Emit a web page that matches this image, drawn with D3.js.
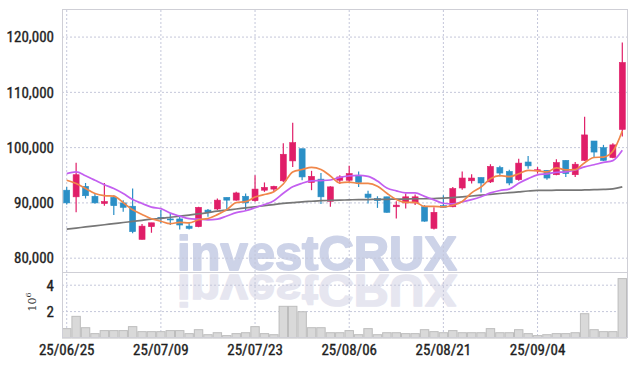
<!DOCTYPE html>
<html>
<head>
<meta charset="utf-8">
<script src="https://cdn.jsdelivr.net/npm/d3@7"></script>
<style>
  body { margin: 0; background: #fff; }
  svg { display: block; }
</style>
</head>
<body>
<svg id="chart" width="635" height="366"></svg>
<script>
// trading days (yy/mm/dd)
const dates = [
  "25/06/25","25/06/26","25/06/27","25/06/30","25/07/01","25/07/02","25/07/03","25/07/04","25/07/07","25/07/08",
  "25/07/09","25/07/10","25/07/11","25/07/14","25/07/15","25/07/16","25/07/17","25/07/18","25/07/21","25/07/22",
  "25/07/23","25/07/24","25/07/25","25/07/28","25/07/29","25/07/30","25/07/31","25/08/01","25/08/04","25/08/05",
  "25/08/06","25/08/07","25/08/08","25/08/11","25/08/12","25/08/13","25/08/14","25/08/18","25/08/19","25/08/20",
  "25/08/21","25/08/22","25/08/25","25/08/26","25/08/27","25/08/28","25/08/29","25/09/01","25/09/02","25/09/03",
  "25/09/04","25/09/05","25/09/08","25/09/09","25/09/10","25/09/11","25/09/12","25/09/15","25/09/16","25/09/17"
];

const open = [
  92300, 91100, 93000, 91200, 89900, 91000, 90000, 89400, 83400, 85700,
  87400, 87100, 87100, 85800, 85700, 88700, 88900, 91000, 90500, 91200,
  90400, 92300, 92500, 94000, 97600, 99800, 93700, 94300, 90300, 94100,
  94100, 95000, 91600, 90800, 91100, 89300, 90000, 90000, 89300, 85400,
  89500, 89300, 92700, 94000, 94600, 93800, 96400, 95700, 94200, 97400,
  95800, 95900, 95100, 97700, 95100, 97700, 101200, 100000, 98200, 103300
];
const high = [
  92900, 97250, 93600, 91800, 93600, 91400, 90500, 92600, 86200, 86400,
  88700, 88000, 87500, 86400, 89300, 88900, 90800, 91000, 92000, 91700,
  95000, 93700, 93100, 100800, 104500, 99800, 95800, 95400, 93000, 95000,
  96700, 95700, 92200, 91200, 91100, 90300, 91700, 91500, 89600, 89200,
  91400, 92900, 95700, 95200, 94600, 97000, 96700, 96000, 98000, 98500,
  96500, 95900, 97900, 97700, 97400, 105600, 101200, 100500, 100800, 119000
];
const low = [
  89700, 88300, 90800, 89900, 89500, 87800, 88400, 84500, 83400, 84600,
  86300, 86000, 85200, 85200, 85600, 87500, 88700, 88900, 90400, 88700,
  90200, 92000, 92000, 93800, 96500, 94100, 92300, 89800, 89300, 93400,
  93800, 92900, 89900, 89100, 88200, 87200, 89000, 89600, 86600, 85200,
  89100, 89200, 92400, 93500, 91900, 93600, 94800, 93200, 94000, 96200,
  95300, 94200, 95000, 94700, 94700, 97600, 98300, 97600, 98100, 102000
];
const close = [
  90000, 95100, 91300, 90000, 90250, 89500, 89200, 84800, 85800, 86400,
  87200, 87000, 86000, 85400, 89200, 88300, 90500, 90500, 91800, 90000,
  92500, 92800, 93000, 98800, 100900, 94700, 94800, 91100, 92900, 94700,
  95300, 93700, 91000, 90400, 88300, 89600, 91100, 91100, 86700, 88300,
  89200, 92600, 94500, 94500, 93600, 96600, 95400, 93600, 97200, 96700,
  96000, 94500, 97300, 95300, 97000, 102300, 99200, 97700, 100500, 115400
];
const volume = [
  710000, 1640000, 780000, 330000, 560000, 560000, 560000, 860000, 480000, 480000,
  480000, 560000, 560000, 330000, 630000, 250000, 400000, 180000, 330000, 400000,
  860000, 330000, 250000, 2400000, 2400000, 1990000, 780000, 780000, 400000, 400000,
  560000, 250000, 710000, 250000, 400000, 400000, 330000, 330000, 630000, 480000,
  400000, 560000, 400000, 400000, 400000, 710000, 400000, 400000, 630000, 330000,
  180000, 250000, 330000, 330000, 400000, 1840000, 630000, 480000, 480000, 4500000
];

// moving averages as drawn
const ma5 = [
  94100, 93500, 92600, 91700, 91330, 91230, 90050, 88750, 87910, 87140,
  86680, 86240, 86480, 86400, 86960, 87180, 87880, 88780, 90060, 90220,
  91060, 91520, 92020, 93420, 95600, 96040, 96440, 96060, 94880, 93640,
  93760, 93540, 93520, 93020, 91740, 90600, 90080, 90100, 89360, 89360,
  89280, 89580, 90260, 91820, 92880, 94360, 94920, 94740, 95280, 95900,
  95780, 95600, 96340, 95960, 96020, 97280, 98220, 98300, 99340, 103020
];
const ma10 = [
  95300, 95600, 94900, 94100, 93300, 92600, 91700, 90600, 89900, 89240,
  88960, 88150, 87620, 87160, 87050, 86930, 87060, 87630, 88230, 88590,
  89120, 89700, 90400, 91740, 92910, 93550, 93980, 94040, 94150, 94620,
  94900, 94990, 94790, 93950, 92690, 92180, 91810, 91810, 91190, 90550,
  89940, 89830, 90180, 90590, 91120, 91820, 92250, 92500, 93550, 94390,
  95070, 95260, 95540, 95620, 95960, 96530, 96910, 97320, 97650, 99520
];
const maLong = [
  85250, 85450, 85650, 85850, 86050, 86250, 86450, 86650, 86850, 87050,
  87200, 87400, 87600, 87800, 88000, 88250, 88500, 88700, 88900, 89100,
  89300, 89500, 89700, 89900, 90050, 90200, 90300, 90400, 90450, 90500,
  90550, 90600, 90600, 90650, 90650, 90700, 90700, 90750, 90750, 90800,
  90850, 90950, 91100, 91250, 91400, 91550, 91700, 91850, 92000, 92150,
  92250, 92250, 92300, 92300, 92300, 92350, 92400, 92450, 92550, 92900
];

const priceTicks = [80000, 90000, 100000, 110000, 120000];
const volumeTicks = [2000000, 4000000];
const dateTicks = ["25/06/25", "25/07/09", "25/07/23", "25/08/06", "25/08/21", "25/09/04"];

const labelFont = "'Liberation Sans Narrow', 'Roboto Condensed', 'DejaVu Sans Condensed', sans-serif";

function styleLabels(axis) {
  axis.select(".domain").remove();
  axis.selectAll("text")
    .attr("font-family", labelFont).attr("font-size", 15)
    .attr("fill", "#1e1e1e").attr("stroke", "#1e1e1e").attr("stroke-width", 0.35);
}

function drawChart() {
  const svg = d3.select("#chart");
  const left = 62, right = 627, top = 10, split = 272, bottom = 338;

  const x = d3.scaleBand().domain(dates).range([left, right]).padding(0);
  const y = d3.scaleLinear().domain([77500, 124900]).range([split, top]);
  const yVol = d3.scaleLinear().domain([0, 5000000]).range([bottom, split]);
  const cx = d => x(d) + x.bandwidth() / 2;

  // watermark and its reflection
  const mark = (fill, transform) => svg.append("text")
    .attr("x", 177).attr("y", 270)
    .attr("transform", transform)
    .attr("font-family", "'Liberation Sans', Arial, sans-serif")
    .attr("font-weight", "bold").attr("font-size", 49)
    .attr("textLength", 280).attr("lengthAdjust", "spacingAndGlyphs")
    .attr("fill", fill).attr("stroke", fill).attr("stroke-width", 1.8)
    .attr("stroke-linejoin", "round")
    .text("investCRUX");
  mark("#cdd3e8", null);
  mark("#e6e6f0", "translate(0,272.5) scale(1,-0.92) translate(0,-272.5)");

  // dotted grid
  const grid = svg.append("g").attr("stroke", "#c4c7da").attr("stroke-dasharray", "2,2");
  priceTicks.forEach(t => {
    grid.append("line").attr("x1", left).attr("x2", right).attr("y1", y(t)).attr("y2", y(t));
  });
  volumeTicks.forEach(t => {
    grid.append("line").attr("x1", left).attr("x2", right).attr("y1", yVol(t)).attr("y2", yVol(t));
  });
  dateTicks.forEach(d => {
    grid.append("line").attr("x1", cx(d)).attr("x2", cx(d)).attr("y1", top).attr("y2", bottom);
  });

  // volume bars
  svg.append("g").selectAll("rect")
    .data(dates)
    .join("rect")
    .attr("x", d => x(d) + 0.5)
    .attr("y", (d, i) => yVol(volume[i]))
    .attr("width", x.bandwidth() - 1)
    .attr("height", (d, i) => bottom - yVol(volume[i]))
    .attr("fill", "#d9d9d9")
    .attr("stroke", "#bdbdbd")
    .attr("stroke-width", 1);

  // frame
  const frame = svg.append("g").attr("stroke", "#cfcfd6").attr("fill", "none");
  frame.append("rect").attr("x", left + 0.5).attr("y", top - 0.5).attr("width", right - left).attr("height", bottom - top);
  frame.append("line").attr("x1", left).attr("x2", right).attr("y1", split + 0.5).attr("y2", split + 0.5);

  // candles
  const up = "#e01e68", down = "#2b8fc6";
  const candles = svg.append("g").selectAll("g")
    .data(dates)
    .join("g")
    .attr("stroke", (d, i) => close[i] >= open[i] ? up : down)
    .attr("fill", (d, i) => close[i] >= open[i] ? up : down);

  candles.append("line")
    .attr("x1", d => cx(d)).attr("x2", d => cx(d))
    .attr("y1", (d, i) => y(high[i]))
    .attr("y2", (d, i) => y(low[i]))
    .attr("stroke-width", 1.2);

  candles.append("rect")
    .attr("x", d => cx(d) - 3)
    .attr("y", (d, i) => y(Math.max(open[i], close[i])))
    .attr("width", 6)
    .attr("height", (d, i) => Math.max(1, Math.abs(y(open[i]) - y(close[i]))))
    .attr("stroke-width", 0.6);

  // moving average lines
  const lineOf = values => d3.line()
    .x((d, i) => cx(dates[i]))
    .y(d => y(d))
    .curve(d3.curveMonotoneX)(values);

  svg.append("path").attr("d", lineOf(maLong)).attr("fill", "none")
    .attr("stroke", "#777777").attr("stroke-width", 1.7);
  svg.append("path").attr("d", lineOf(ma10)).attr("fill", "none")
    .attr("stroke", "#c35ff0").attr("stroke-width", 1.7);
  svg.append("path").attr("d", lineOf(ma5)).attr("fill", "none")
    .attr("stroke", "#f0874a").attr("stroke-width", 1.7);

  // price axis labels
  const yAxis = svg.append("g")
    .attr("transform", `translate(${left - 5},0)`)
    .call(d3.axisLeft(y).tickValues(priceTicks).tickSize(0).tickFormat(d3.format(",")));
  styleLabels(yAxis);

  // volume axis labels
  const vAxis = svg.append("g")
    .attr("transform", `translate(${left - 5},0)`)
    .call(d3.axisLeft(yVol).tickValues(volumeTicks).tickSize(0).tickFormat(d => d / 1e6));
  styleLabels(vAxis);

  const exp = svg.append("text")
    .attr("transform", "translate(36,302) rotate(-90)")
    .attr("text-anchor", "middle")
    .attr("font-family", "'DejaVu Serif', serif").attr("font-size", 11).attr("fill", "#333");
  exp.append("tspan").text("10");
  exp.append("tspan").attr("dy", -5).attr("font-size", 8).text("6");

  // date axis labels
  const xAxis = svg.append("g")
    .attr("transform", `translate(0,${bottom + 3})`)
    .call(d3.axisBottom(x).tickValues(dateTicks).tickSize(0));
  styleLabels(xAxis);
}

drawChart();
</script>
</body>
</html>
